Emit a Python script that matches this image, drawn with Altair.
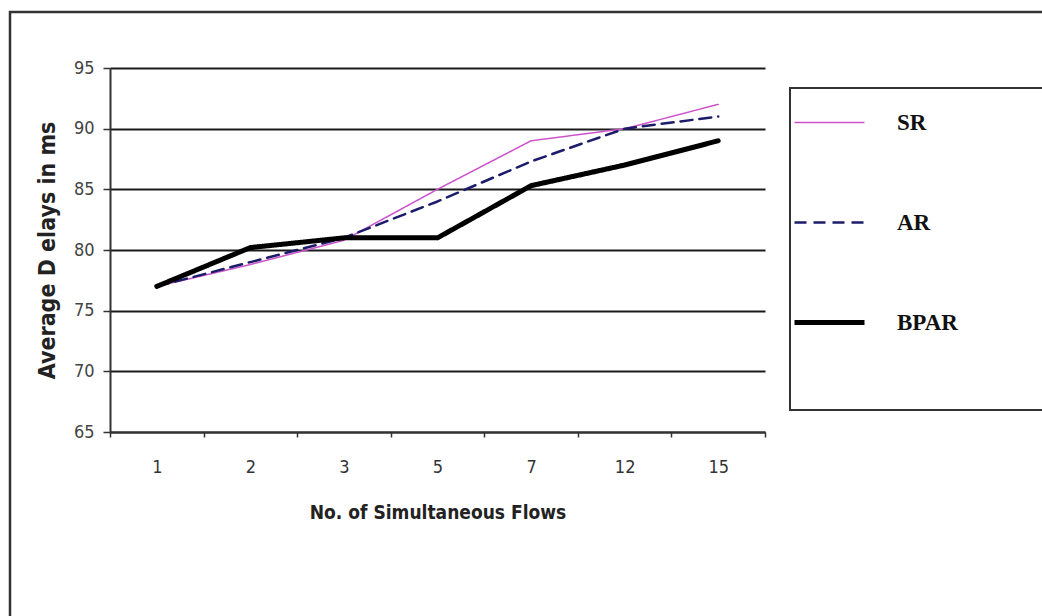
import altair as alt
import pandas as pd

flows = ["1", "2", "3", "5", "7", "12", "15"]
sr = [77, 78.8, 80.8, 85, 89, 90, 92]
ar = [77, 79, 81, 84, 87.3, 90, 91]
bpar = [77, 80.2, 81, 81, 85.3, 87, 89]
series_names = ["SR", "AR", "BPAR"]
series_colors = ["#cc55cc", "#1c1c6b", "#000000"]

rows = []
for name, vals in zip(series_names, [sr, ar, bpar]):
    for f, v in zip(flows, vals):
        rows.append({"flows": f, "delay": v, "series": name})
df = pd.DataFrame(rows)

W, H = 655, 364
PL, PT = 110, 68
NARROW = "'Liberation Sans Narrow', 'DejaVu Sans Condensed', 'Liberation Sans', sans-serif"
WIDTH_EXPR = "datum.{f} == 'BPAR' ? 5 : (datum.{f} == 'AR' ? 2.5 : 1.5)"

leg = alt.Legend(title=None, orient="none", legendX=818 - PL, legendY=111 - PT,
                 symbolType="stroke", symbolSize=4900, rowPadding=76, labelOffset=56,
                 labelFont="Liberation Serif", labelFontSize=23, labelFontWeight="bold",
                 labelColor="#111", padding=0,
                 symbolStrokeWidth={"expr": WIDTH_EXPR.format(f="value")})

lines = alt.Chart(df).transform_calculate(
    sw=WIDTH_EXPR.format(f="series")
).mark_line(strokeJoin="round", strokeCap="round").encode(
    x=alt.X("flows:O", sort=flows,
            scale=alt.Scale(type="band", paddingInner=0, paddingOuter=0),
            axis=alt.Axis(title="No. of Simultaneous Flows", labelAngle=0, tickBand="extent",
                          domainColor="#333", domainWidth=2, tickColor="#333", tickWidth=1.5,
                          tickSize=5, labelPadding=21, labelFontSize=18, labelColor="#333",
                          labelFont=NARROW, titleFont=NARROW,
                          titleFontSize=19, titleFontWeight="bold", titlePadding=27,
                          titleColor="#222", grid=False)),
    y=alt.Y("delay:Q",
            scale=alt.Scale(domain=[65, 95], nice=False, zero=False),
            axis=alt.Axis(title="Average D elays in ms", values=[65, 70, 75, 80, 85, 90, 95],
                          domainColor="#333", domainWidth=2, tickColor="#333", tickWidth=1.5,
                          tickSize=7, labelPadding=9, labelFontSize=18, labelColor="#444",
                          labelFont=NARROW, titleFont=NARROW,
                          titleFontSize=23, titleFontWeight="bold", titlePadding=14,
                          titleColor="#222", grid=True, gridColor="#1a1a1a", gridWidth=2)),
    color=alt.Color("series:N", sort=series_names,
                    scale=alt.Scale(domain=series_names, range=series_colors),
                    legend=leg),
    strokeDash=alt.StrokeDash("series:N", sort=series_names,
                              scale=alt.Scale(domain=series_names, range=[[1, 0], [12, 7], [1, 0]]),
                              legend=leg),
    strokeWidth=alt.StrokeWidth("sw:Q", scale=None, legend=None),
)

dummy = pd.DataFrame({"a": [0]})
frame = alt.Chart(dummy).mark_rect(fill=None, stroke="#333", strokeWidth=2.5).encode(
    x=alt.value(10 - PL), x2=alt.value(1100 - PL),
    y=alt.value(12 - PT), y2=alt.value(700 - PT),
)
legend_box = alt.Chart(dummy).mark_rect(fill=None, stroke="#333", strokeWidth=2).encode(
    x=alt.value(790 - PL), x2=alt.value(1100 - PL),
    y=alt.value(88 - PT), y2=alt.value(410 - PT),
)

chart = alt.layer(frame, legend_box, lines).properties(
    width=W, height=H,
    background="white",
    padding={"left": PL, "top": PT, "right": 1042 - PL - W, "bottom": 616 - PT - H},
    autosize=alt.AutoSizeParams(type="none"),
).configure_view(stroke=None)

chart.save("out.html", embed_options={"renderer": "svg", "actions": False})
